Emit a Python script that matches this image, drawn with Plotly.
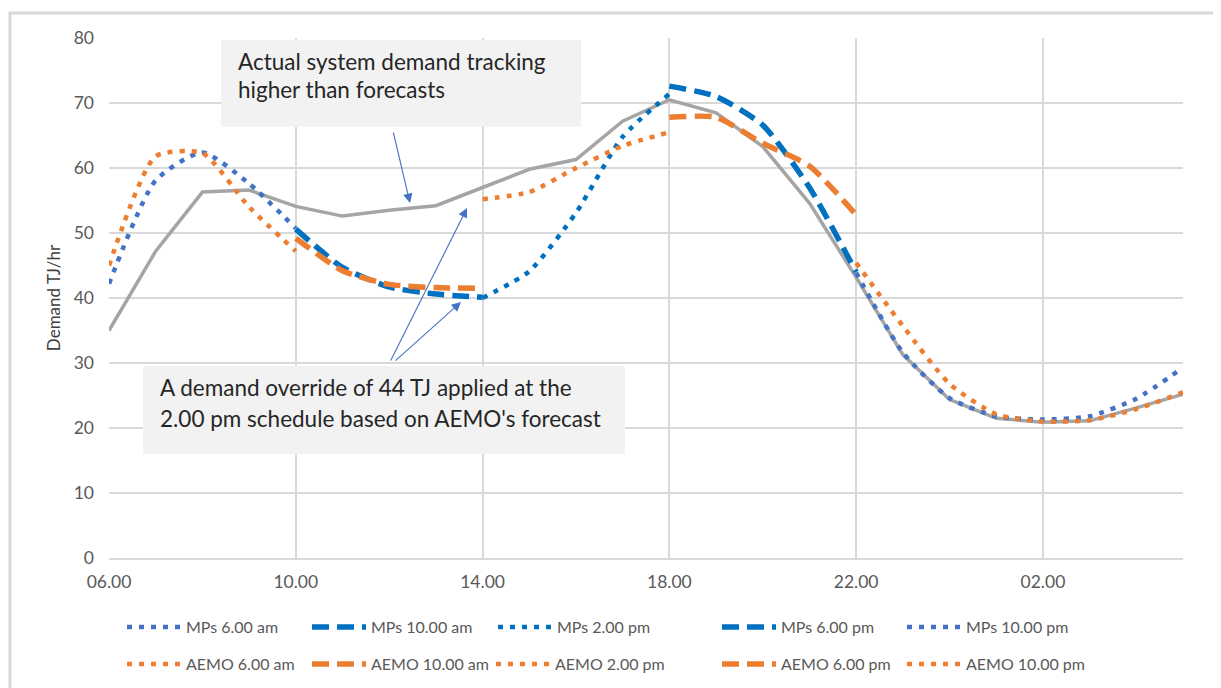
import plotly.graph_objects as go

# ---------------- data ----------------
hours = ["06.00", "07.00", "08.00", "09.00", "10.00", "11.00", "12.00", "13.00",
         "14.00", "15.00", "16.00", "17.00", "18.00", "19.00", "20.00", "21.00",
         "22.00", "23.00", "00.00", "01.00", "02.00", "03.00", "04.00", "05.00"]
tick_labels = ["06.00", "10.00", "14.00", "18.00", "22.00", "02.00"]

actual = [35.0, 47.2, 56.3, 56.6, 54.1, 52.6, 53.5, 54.2, 57.0, 59.8, 61.3, 67.2,
          70.5, 68.5, 63.3, 54.6, 43.2, 31.3, 24.4, 21.5, 20.9, 21.1, 23.1, 25.2]

mps_6am = [42.2, 58.1, 62.4, 57.6, 50.7]
mps_10am = [50.6, 44.7, 41.7, 40.6, 40.1]
mps_2pm = [40.0, 44.1, 53.1, 64.8, 71.4]
mps_6pm = [72.6, 71.0, 66.6, 57.0, 44.0]
mps_10pm = [43.9, 31.6, 24.6, 21.8, 21.3, 21.8, 24.5, 29.3]

aemo_6am = [45.0, 61.8, 62.3, 54.0, 47.2]
aemo_10am = [49.2, 44.2, 42.1, 41.6, 41.5]
aemo_2pm = [55.2, 56.3, 60.0, 63.4, 65.5]
aemo_6pm = [67.8, 67.8, 63.8, 60.3, 52.8]
aemo_10pm = [45.4, 35.7, 26.8, 22.1, 21.0, 21.2, 22.9, 25.5]

# schedule name, start hour index, values
mps_series = [("MPs 6.00 am", 0, mps_6am), ("MPs 10.00 am", 4, mps_10am),
              ("MPs 2.00 pm", 8, mps_2pm), ("MPs 6.00 pm", 12, mps_6pm),
              ("MPs 10.00 pm", 16, mps_10pm)]
aemo_series = [("AEMO 6.00 am", 0, aemo_6am), ("AEMO 10.00 am", 4, aemo_10am),
               ("AEMO 2.00 pm", 8, aemo_2pm), ("AEMO 6.00 pm", 12, aemo_6pm),
               ("AEMO 10.00 pm", 16, aemo_10pm)]

# ---------------- styles ----------------
OFF = 8                      # page body margin of the html page
W, H = 1221 - OFF, 688 - OFF
ML, MR, MT, MB = 109 - OFF, 38, 38 - OFF, 130
PW, PH = W - ML - MR, H - MT - MB

def px_x(px):
    """page pixel x -> paper coordinate"""
    return (px - OFF - ML) / PW

def px_y(py):
    """page pixel y -> paper coordinate"""
    return (MT + PH - (py - OFF)) / PH

FONT = "Lato, 'Open Sans', sans-serif"
DOT = "5px,7px"
DASH = "17px,8px"
mps_styles = [("#4472C4", DOT, 4.5), ("#0070C0", DASH, 5.5), ("#0070C0", DOT, 4.5),
              ("#0070C0", DASH, 5.5), ("#4472C4", DOT, 4.5)]
aemo_styles = [("#ED7D31", DOT, 4.5), ("#ED7D31", DASH, 5.5), ("#ED7D31", DOT, 4.5),
               ("#ED7D31", DASH, 5.5), ("#ED7D31", DOT, 4.5)]

legend_x_row1 = [127, 312, 498, 722, 907]
legend_x_row2 = [127, 312, 496, 722, 907]
legend_y_rows = [627, 664]

fig = go.Figure()

fig.add_trace(go.Scatter(x=hours, y=actual, mode="lines", name="Actual",
                         line=dict(color="#A5A5A5", width=3.5), showlegend=False))

legends = {}
idx = 0
for row, (series, styles, xs) in enumerate([(mps_series, mps_styles, legend_x_row1),
                                            (aemo_series, aemo_styles, legend_x_row2)]):
    for (name, start, vals), (col, dash, w), lx in zip(series, styles, xs):
        idx += 1
        lname = "legend" if idx == 1 else f"legend{idx}"
        fig.add_trace(go.Scatter(
            x=hours[start:start + len(vals)], y=vals, mode="lines", name=name,
            line=dict(color=col, width=w, dash=dash, shape="spline", smoothing=0.6),
            legend=lname))
        legends[lname] = dict(
            x=px_x(lx - 5), y=px_y(legend_y_rows[row]), xanchor="left", yanchor="middle",
            orientation="h", bgcolor="rgba(0,0,0,0)", borderwidth=0,
            font=dict(family=FONT, size=16, color="#595959"), itemwidth=54)

TXT = dict(family=FONT, size=22.5, color="#262626")
annotations = [
    dict(xref="paper", yref="paper", x=px_x(236), y=px_y(62), xanchor="left", yanchor="middle",
         text="Actual system demand tracking", showarrow=False, font=TXT),
    dict(xref="paper", yref="paper", x=px_x(236), y=px_y(90), xanchor="left", yanchor="middle",
         text="higher than forecasts", showarrow=False, font=TXT),
    dict(xref="paper", yref="paper", x=px_x(158), y=px_y(387), xanchor="left", yanchor="middle",
         text="A demand override of 44 TJ applied at the", showarrow=False, font=TXT),
    dict(xref="paper", yref="paper", x=px_x(158), y=px_y(418), xanchor="left", yanchor="middle",
         text="2.00 pm schedule based on AEMO's forecast", showarrow=False, font=TXT),
]
arrows = [((410, 203), (393, 131)), ((467, 208), (390, 362)), ((461, 302), (394, 362))]
for (tx, ty), (sx, sy) in arrows:
    annotations.append(dict(xref="paper", yref="paper", x=px_x(tx), y=px_y(ty),
                            ax=sx - tx, ay=sy - ty, text="", showarrow=True,
                            arrowhead=2, arrowsize=1.7, arrowwidth=1.1,
                            arrowcolor="#4472C4", standoff=0, startstandoff=0))

shapes = [
    dict(type="rect", xref="paper", yref="paper", x0=px_x(221), x1=px_x(581),
         y0=px_y(127), y1=px_y(40), fillcolor="#F2F2F2", line=dict(width=0), layer="above"),
    dict(type="rect", xref="paper", yref="paper", x0=px_x(143), x1=px_x(625),
         y0=px_y(454), y1=px_y(366), fillcolor="#F2F2F2", line=dict(width=0), layer="above"),
    dict(type="rect", xref="paper", yref="paper", x0=px_x(10), x1=px_x(1218),
         y0=px_y(705), y1=px_y(13), fillcolor="rgba(0,0,0,0)",
         line=dict(color="#D9D9D9", width=3), layer="above"),
]

fig.update_layout(
    width=W, height=H,
    margin=dict(l=ML, r=MR, t=MT, b=MB, autoexpand=False),
    paper_bgcolor="white", plot_bgcolor="white",
    font=dict(family=FONT, color="#595959"),
    annotations=annotations, shapes=shapes,
    **legends,
)
fig.update_xaxes(type="category", range=[0, 23], tickmode="array", tickvals=tick_labels,
                 ticktext=tick_labels, showgrid=True, gridcolor="#D9D9D9", gridwidth=1.5,
                 showline=True, linecolor="#D9D9D9", linewidth=1.5, ticks="",
                 tickfont=dict(family=FONT, size=17.5, color="#595959"),
                 ticklabelstandoff=7, automargin=False)
fig.update_yaxes(range=[0, 80], dtick=10, showgrid=True, gridcolor="#D9D9D9", gridwidth=1.5,
                 zeroline=False, showline=False, ticks="", automargin=False,
                 tickfont=dict(family=FONT, size=17.5, color="#595959"),
                 ticklabelstandoff=14,
                 title=dict(text="Demand TJ/hr", standoff=8,
                            font=dict(family=FONT, size=17, color="#404040")))

fig.write_html("out.html")
